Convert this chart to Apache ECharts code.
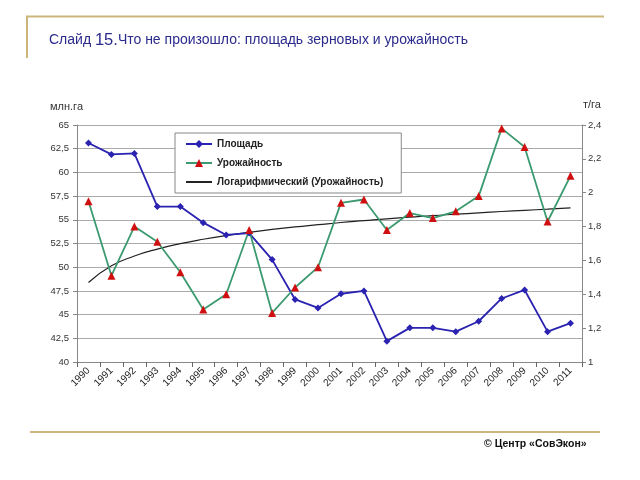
<!DOCTYPE html>
<html><head><meta charset="utf-8">
<script src="https://cdn.jsdelivr.net/npm/echarts@6/dist/echarts.min.js"></script>
<style>html,body{margin:0;padding:0;background:#fff}#c{width:640px;height:480px}</style>
</head><body><div id="c"></div>
<script>
const years = ['1990','1991','1992','1993','1994','1995','1996','1997','1998','1999','2000','2001','2002','2003','2004','2005','2006','2007','2008','2009','2010','2011'];
const area = [63.1,61.9,62.0,56.4,56.4,54.7,53.4,53.6,50.8,46.6,45.7,47.2,47.5,42.2,43.6,43.6,43.2,44.3,46.7,47.6,43.2,44.1];
const yieldT = [1.95,1.51,1.80,1.71,1.53,1.31,1.40,1.78,1.29,1.44,1.56,1.94,1.96,1.78,1.88,1.85,1.89,1.98,2.38,2.27,1.83,2.10];
const trend = [1.470,1.568,1.626,1.667,1.699,1.725,1.747,1.766,1.783,1.798,1.811,1.824,1.835,1.846,1.855,1.865,1.873,1.881,1.889,1.896,1.903,1.910];
const names = ['Площадь','Урожайность','Логарифмический (Урожайность)'];

const F = 'Liberation Sans, Arial, sans-serif';
const chart = echarts.init(document.getElementById('c'), null, {renderer:'canvas'});
const comma = v => String(+v.toFixed(1)).replace('.', ',');
chart.setOption({
  animation:false,
  backgroundColor:'#fff',
  textStyle:{fontFamily:F},
  grid:{left:77,right:58,top:125,bottom:118},
  legend:{
    orient:'vertical', left:175, top:133, z:10,
    backgroundColor:'#fff', borderColor:'#888', borderWidth:1, borderRadius:0,
    padding:[6,18,6,10], itemGap:9, itemWidth:26, itemHeight:10,
    textStyle:{fontFamily:F,fontSize:10,fontWeight:'bold',color:'#222'},
    data:[names[0],names[1],{name:names[2],itemStyle:{opacity:0}}]
  },
  xAxis:{
    type:'category', data:years, boundaryGap:true,
    axisLine:{lineStyle:{color:'#888'}},
    axisTick:{show:true,length:5,lineStyle:{color:'#666'}},
    axisLabel:{rotate:45,fontSize:10,color:'#222',fontFamily:F,margin:7,interval:0}
  },
  yAxis:[
    {type:'value',min:40,max:65,interval:2.5,position:'left',
     name:'млн.га',nameLocation:'end',nameGap:13,nameTextStyle:{fontSize:11,color:'#333',fontFamily:F,align:'right',padding:[0,-6,0,0]},
     axisLine:{show:true,lineStyle:{color:'#888'}},
     axisTick:{show:true,length:4,lineStyle:{color:'#888'}},
     axisLabel:{fontSize:9.5,color:'#333',fontFamily:F,margin:8,formatter:comma},
     splitLine:{lineStyle:{color:'#aaa',width:1}}},
    {type:'value',min:1,max:2.4,interval:0.2,position:'right',
     name:'т/га',nameLocation:'end',nameGap:15,nameTextStyle:{fontSize:11,color:'#333',fontFamily:F,align:'left',padding:[0,0,0,1]},
     axisLine:{show:true,lineStyle:{color:'#888'}},
     axisTick:{show:true,length:4,lineStyle:{color:'#888'}},
     axisLabel:{fontSize:9.5,color:'#333',fontFamily:F,margin:6,formatter:comma},
     splitLine:{show:false}}
  ],
  series:[
    {name:names[0],type:'line',yAxisIndex:0,data:area,
     lineStyle:{color:'#2a22b0',width:1.8},itemStyle:{color:'#2a22b0'},
     symbol:'diamond',symbolSize:7,z:3},
    {name:names[1],type:'line',yAxisIndex:1,data:yieldT,
     lineStyle:{color:'#3c9a70',width:1.8},itemStyle:{color:'#d01010'},
     symbol:'triangle',symbolSize:8,z:3},
    {name:names[2],type:'line',yAxisIndex:1,data:trend,smooth:true,
     lineStyle:{color:'#222',width:1.2},itemStyle:{color:'#222'},
     symbol:'none',z:2}
  ],
  graphic:[
    {type:'line',shape:{x1:26,y1:16.5,x2:604,y2:16.5},style:{stroke:'#cdb67a',lineWidth:2}},
    {type:'line',shape:{x1:27,y1:16,x2:27,y2:58},style:{stroke:'#cdb67a',lineWidth:2}},
    {type:'line',shape:{x1:30,y1:432,x2:600,y2:432},style:{stroke:'#cdb67a',lineWidth:2}},
    {type:'text',left:49,top:32,style:{
      text:'{a|Слайд }{b|15.}{a|Что не произошло: площадь зерновых и урожайность}',
      rich:{a:{fontSize:14,fill:'#2b2b8c',fontFamily:F},b:{fontSize:16.5,fill:'#2b2b8c',fontFamily:F}}}},
    {type:'text',left:484,top:439,style:{text:'© Центр «СовЭкон»',fontSize:10.5,fontWeight:'bold',fill:'#111',fontFamily:F}}
  ]
});
</script></body></html>
